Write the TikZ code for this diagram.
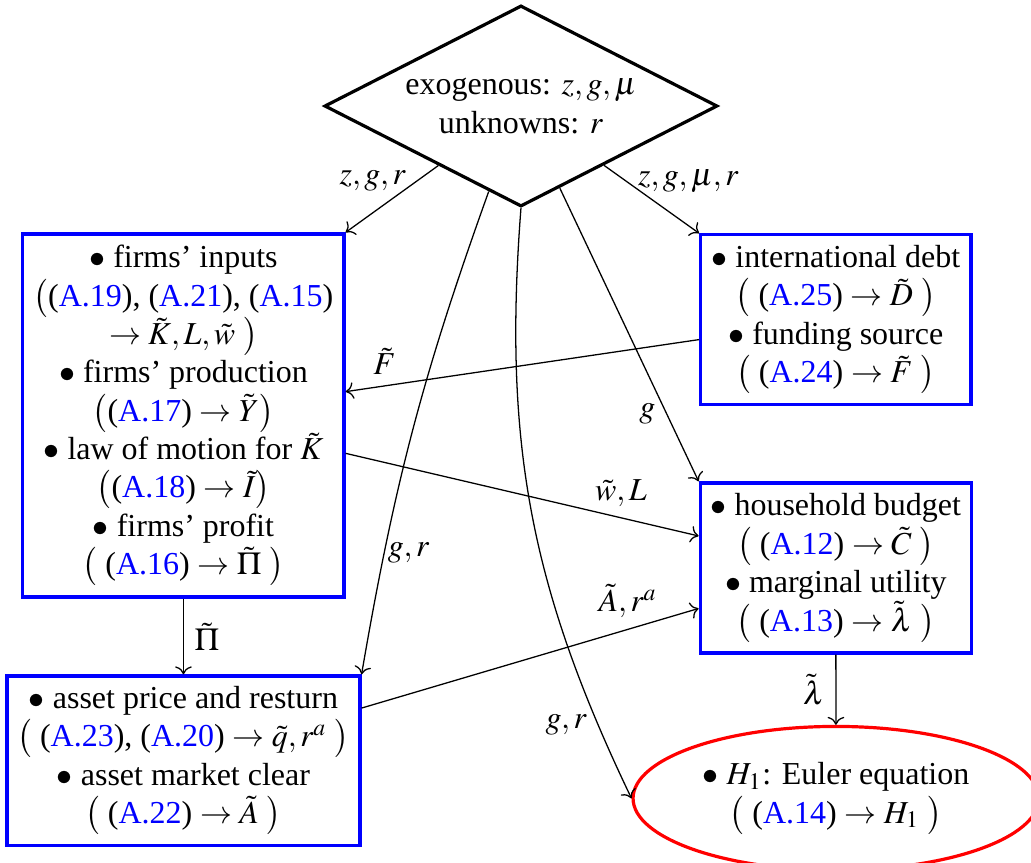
\documentclass[tikz,border=0pt]{standalone}
\usepackage{mathptmx}
\usepackage{fontspec}
\setmainfont{Liberation Serif}
\usepackage{tikz}
\usetikzlibrary{arrows.meta,shapes.geometric,positioning}
\newcommand{\eqlink}[1]{(\textcolor{blue}{#1})}

\begin{document}
\begin{tikzpicture}[
  eqbox/.style={draw=blue,line width=1pt,align=center,inner sep=2pt},
  decide/.style={draw,diamond,aspect=2,line width=1pt,align=center,inner sep=1pt},
  goal/.style={draw=red,ellipse,line width=1pt,align=center,inner sep=0pt}]
\useasboundingbox (0,0) rectangle (11.33,9.473);
% ---- nodes ----
\node[decide,minimum width=4.32cm,minimum height=2.21cm] (dia) at (5.725,8.308)
  {exogenous: $z,g,\mu$\\ unknowns: $r$};
\node[eqbox,minimum width=3.53cm,minimum height=3.99cm] (firm) at (2.016,4.907)
  {$\bullet$ firms' inputs\\
   $\big($\eqlink{A.19}, \eqlink{A.21}, \eqlink{A.15}\\
   $\to \tilde{K},L,\tilde{w}\ \big)$\\
   $\bullet$ firms' production\\
   $\big($\eqlink{A.17} $\to\tilde{Y}\big)$\\
   $\bullet$ law of motion for $\tilde{K}$\\
   $\big($\eqlink{A.18} $\to\tilde{I}\big)$\\
   $\bullet$ firms' profit\\
   $\big($ \eqlink{A.16} $\to\tilde{\Pi}\ \big)$};
\node[eqbox,minimum width=2.97cm,minimum height=1.86cm] (debt) at (9.185,5.962)
  {$\bullet$ international debt\\
   $\big($ \eqlink{A.25} $\to\tilde{D}\ \big)$\\
   $\bullet$ funding source\\
   $\big($ \eqlink{A.24} $\to\tilde{F}\ \big)$};
\node[eqbox,minimum width=2.98cm,minimum height=1.87cm] (hh) at (9.185,3.231)
  {$\bullet$ household budget\\
   $\big($ \eqlink{A.12} $\to\tilde{C}\ \big)$\\
   $\bullet$ marginal utility\\
   $\big($ \eqlink{A.13} $\to\tilde{\lambda}\ \big)$};
\node[eqbox,minimum width=3.88cm,minimum height=1.86cm] (asset) at (2.016,1.115)
  {$\bullet$ asset price and resturn\\
   $\big($ \eqlink{A.23}, \eqlink{A.20} $\to\tilde{q},r^a\ \big)$\\
   $\bullet$ asset market clear\\
   $\big($ \eqlink{A.22} $\to\tilde{A}\ \big)$};
\node[goal,minimum width=4.46cm,minimum height=1.58cm] (ell) at (9.187,0.7)
  {$\bullet$ $H_1$: Euler equation\\
   $\big($ \eqlink{A.14} $\to H_1\ \big)$};
% ---- connectors ----
\draw[->] (dia) -- node[pos=.23,left] {$z,g,r$} (firm.north east);
\draw[->] (dia) -- node[pos=.24,right] {$z,g,\mu,r$} (debt.north west);
\draw[->] (dia) -- node[pos=.77,left] {$g$} (hh.north west);
\draw[->] (dia) to[bend right=5] node[pos=.77,right,inner sep=1pt] {$g,r$} (asset.north east);
\draw[->] (dia.south) to[bend right=15] node[pos=.88,left] {$g,r$} (ell.west);
\draw[->] (debt) -- node[pos=.89,above] {$\tilde{F}$} (firm);
\draw[->] (firm) -- node[pos=.78,above] {$\tilde{w},L$} (hh);
\draw[->] (asset) -- node[pos=.79,above] {$\tilde{A},r^a$} (hh);
\draw[->] (firm) -- node[right] {$\tilde{\Pi}$} (asset);
\draw[->] (hh) -- node[left] {$\tilde{\lambda}$} (ell);
\end{tikzpicture}
\end{document}
